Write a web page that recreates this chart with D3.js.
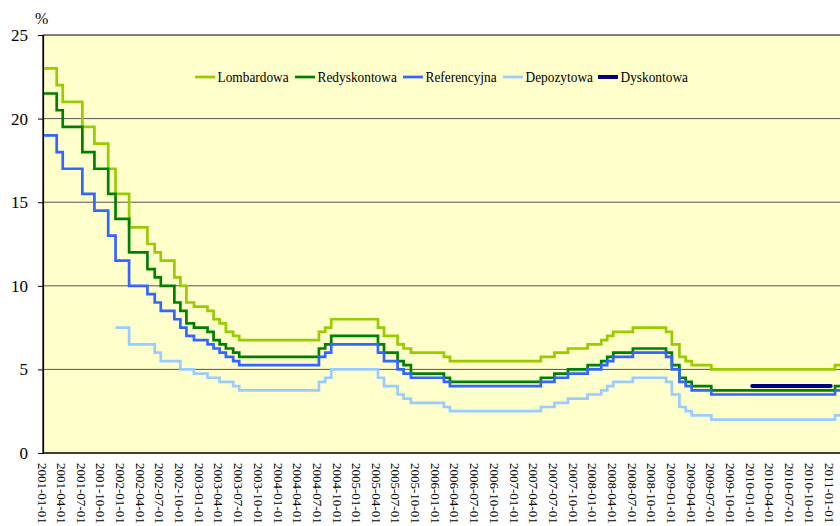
<!DOCTYPE html>
<html>
<head>
<meta charset="utf-8">
<script src="https://cdn.jsdelivr.net/npm/d3@7"></script>
<style>
  body { margin: 0; background: #fff; }
  svg { display: block; }
  svg text { font-family: "Liberation Serif", "Times New Roman", Times, serif; }
</style>
</head>
<body>
<svg id="chart" width="840" height="526"></svg>
<script>
// dates when the rates changed (NBP decisions), one value per series for each date
var decisionDates = [
  "2001-01-01", "2001-03-01", "2001-03-29", "2001-06-28", "2001-08-23", "2001-10-26", "2001-11-29",
  "2002-01-31", "2002-04-26", "2002-05-30", "2002-06-27", "2002-08-29", "2002-09-26", "2002-10-24", "2002-11-28",
  "2003-01-30", "2003-02-27", "2003-03-27", "2003-04-25", "2003-05-29", "2003-06-26",
  "2004-06-30", "2004-07-29", "2004-08-26",
  "2005-03-31", "2005-04-28", "2005-06-30", "2005-07-28", "2005-08-31",
  "2006-01-31", "2006-02-28",
  "2007-04-26", "2007-06-28", "2007-08-30", "2007-11-29",
  "2008-01-31", "2008-02-28", "2008-03-27", "2008-06-26", "2008-11-27", "2008-12-24",
  "2009-01-28", "2009-02-26", "2009-03-26", "2009-06-25",
  "2011-01-20"
];
var endDate = "2011-03-31";

var lombardowa = [
  23, 22, 21, 19.5, 18.5, 17, 15.5,
  13.5, 12.5, 12, 11.5, 10.5, 10, 9, 8.75,
  8.5, 8, 7.75, 7.25, 7, 6.75,
  7.25, 7.5, 8,
  7.5, 7, 6.5, 6.25, 6,
  5.75, 5.5,
  5.75, 6, 6.25, 6.5,
  6.75, 7, 7.25, 7.5, 7.25, 6.5,
  5.75, 5.5, 5.25, 5,
  5.25
];
var redyskontowa = [
  21.5, 20.5, 19.5, 18, 17, 15.5, 14,
  12, 11, 10.5, 10, 9, 8.5, 7.75, 7.5,
  7.25, 6.75, 6.5, 6.25, 6, 5.75,
  6.25, 6.5, 7,
  6.5, 6, 5.5, 5.25, 4.75,
  4.5, 4.25,
  4.5, 4.75, 5, 5.25,
  5.5, 5.75, 6, 6.25, 6, 5.25,
  4.5, 4.25, 4, 3.75,
  4
];
var referencyjna = [
  19, 18, 17, 15.5, 14.5, 13, 11.5,
  10, 9.5, 9, 8.5, 8, 7.5, 7, 6.75,
  6.5, 6.25, 6, 5.75, 5.5, 5.25,
  5.75, 6, 6.5,
  6, 5.5, 5, 4.75, 4.5,
  4.25, 4,
  4.25, 4.5, 4.75, 5,
  5.25, 5.5, 5.75, 6, 5.75, 5,
  4.25, 4, 3.75, 3.5,
  3.75
];
var depozytowa = [
  null, null, null, null, null, null, 7.5,
  6.5, 6.5, 6, 5.5, 5.5, 5, 5, 4.75,
  4.5, 4.5, 4.25, 4.25, 4, 3.75,
  4.25, 4.5, 5,
  4.5, 4, 3.5, 3.25, 3,
  2.75, 2.5,
  2.75, 3, 3.25, 3.5,
  3.75, 4, 4.25, 4.5, 4.25, 3.5,
  2.75, 2.5, 2.25, 2,
  2.25
];
// discount rate only shown for 2010
var dyskontowaDates = ["2010-01-01", "2010-12-31"];
var dyskontowa = [4, 4];

var seriesNames = ["Lombardowa", "Redyskontowa", "Referencyjna", "Depozytowa", "Dyskontowa"];
var seriesColors = ["#99cc00", "#008000", "#3366ff", "#99ccff", "#000080"];
var yTicks = [0, 5, 10, 15, 20, 25];

var serif = "'Liberation Serif', 'Times New Roman', Times, serif";

var svg = d3.select("#chart"),
    width = +svg.attr("width"),
    height = +svg.attr("height");

var parse = d3.utcParse("%Y-%m-%d");
var plotLeft = 43, plotTop = 35, plotBottom = 453;

var x = d3.scaleUtc()
    .domain([parse("2001-01-01"), parse("2011-03-01")])
    .range([44, 843.6]);
var y = d3.scaleLinear()
    .domain([0, 25])
    .range([plotBottom, plotTop]);

// plot background
svg.append("rect")
    .attr("x", plotLeft)
    .attr("y", plotTop)
    .attr("width", width - plotLeft + 5)
    .attr("height", plotBottom - plotTop)
    .attr("fill", "#ffffcc");

// gridlines
svg.append("g")
    .selectAll("line")
    .data(yTicks.filter(d => d > 0))
    .enter()
    .append("line")
    .attr("x1", plotLeft)
    .attr("x2", width + 5)
    .attr("y1", d => y(d))
    .attr("y2", d => y(d))
    .attr("stroke", d => d == 25 ? "#000" : "#555")
    .attr("stroke-width", 1);

// y axis
var yAxis = d3.axisLeft(y)
    .tickValues(yTicks)
    .tickSize(5)
    .tickPadding(10)
    .tickFormat(d3.format("d"));
var gy = svg.append("g")
    .attr("transform", "translate(" + plotLeft + ",0)")
    .call(yAxis)
    .attr("font-family", null);
gy.select(".domain").attr("stroke", "#000").attr("stroke-width", 1.2);
gy.selectAll(".tick line").attr("stroke", "#000");
gy.selectAll("text")
    .style("font-family", serif)
    .style("font-size", "17px")
    .attr("fill", "#000");

svg.append("text")
    .attr("x", 35)
    .attr("y", 24)
    .style("font-family", serif)
    .style("font-size", "16px")
    .text("%");

// x axis, quarterly labels
var xTicks = d3.utcMonth.every(3).range(parse("2001-01-01"), parse("2011-02-01"));
var xAxis = d3.axisBottom(x)
    .tickValues(xTicks)
    .tickSize(0)
    .tickFormat(d3.utcFormat("%Y-%m-%d"));
var gx = svg.append("g")
    .attr("transform", "translate(0," + plotBottom + ")")
    .call(xAxis)
    .attr("font-family", null);
gx.select(".domain").remove();
gx.selectAll("text")
    .style("font-family", serif)
    .style("font-size", "13px")
    .attr("fill", "#000")
    .attr("transform", "rotate(90)")
    .attr("text-anchor", "start")
    .attr("x", 10)
    .attr("y", 2.3)
    .attr("dy", "0.35em");

svg.append("line")
    .attr("x1", plotLeft)
    .attr("x2", width + 5)
    .attr("y1", plotBottom)
    .attr("y2", plotBottom)
    .attr("stroke", "#000")
    .attr("stroke-width", 1.5);

// series
function makeSeries(dates, values, ext) {
  var pts = dates.map((d, i) => ({date: parse(d), value: values[i]}))
      .filter(d => d.value != null);
  if (ext) pts.push({date: parse(endDate), value: pts[pts.length - 1].value});
  return pts;
}
var series = [
  makeSeries(decisionDates, lombardowa, true),
  makeSeries(decisionDates, redyskontowa, true),
  makeSeries(decisionDates, referencyjna, true),
  makeSeries(decisionDates, depozytowa, true),
  makeSeries(dyskontowaDates, dyskontowa, false)
];

var line = d3.line()
    .curve(d3.curveStepAfter)
    .x(d => x(d.date))
    .y(d => y(d.value));

svg.append("g")
    .selectAll("path")
    .data(series)
    .enter()
    .append("path")
    .attr("d", line)
    .attr("fill", "none")
    .attr("stroke", (d, i) => seriesColors[i])
    .attr("stroke-width", (d, i) => i == 4 ? 4 : 2.7)
    .attr("stroke-linecap", (d, i) => i == 4 ? "round" : "butt");

// left axis line on top
svg.append("line")
    .attr("x1", plotLeft)
    .attr("x2", plotLeft)
    .attr("y1", plotTop)
    .attr("y2", plotBottom)
    .attr("stroke", "#000")
    .attr("stroke-width", 1.2);

// legend
var legendX = [195, 295, 403, 503, 598];
var legend = svg.append("g")
    .attr("transform", "translate(0,77)");
var items = legend.selectAll("g")
    .data(seriesNames)
    .enter()
    .append("g")
    .attr("transform", (d, i) => "translate(" + legendX[i] + ",0)");
items.append("line")
    .attr("x1", 0)
    .attr("x2", 20)
    .attr("stroke", (d, i) => seriesColors[i])
    .attr("stroke-width", (d, i) => i == 4 ? 4 : 2.7);
items.append("text")
    .attr("x", 22.5)
    .attr("dy", "0.35em")
    .style("font-family", serif)
    .style("font-size", "15px")
    .text(d => d)
    .each(function() {
      // original legend text is slightly condensed
      var w = this.getComputedTextLength();
      d3.select(this).attr("textLength", w * 0.89).attr("lengthAdjust", "spacingAndGlyphs");
    });
</script>
</body>
</html>
